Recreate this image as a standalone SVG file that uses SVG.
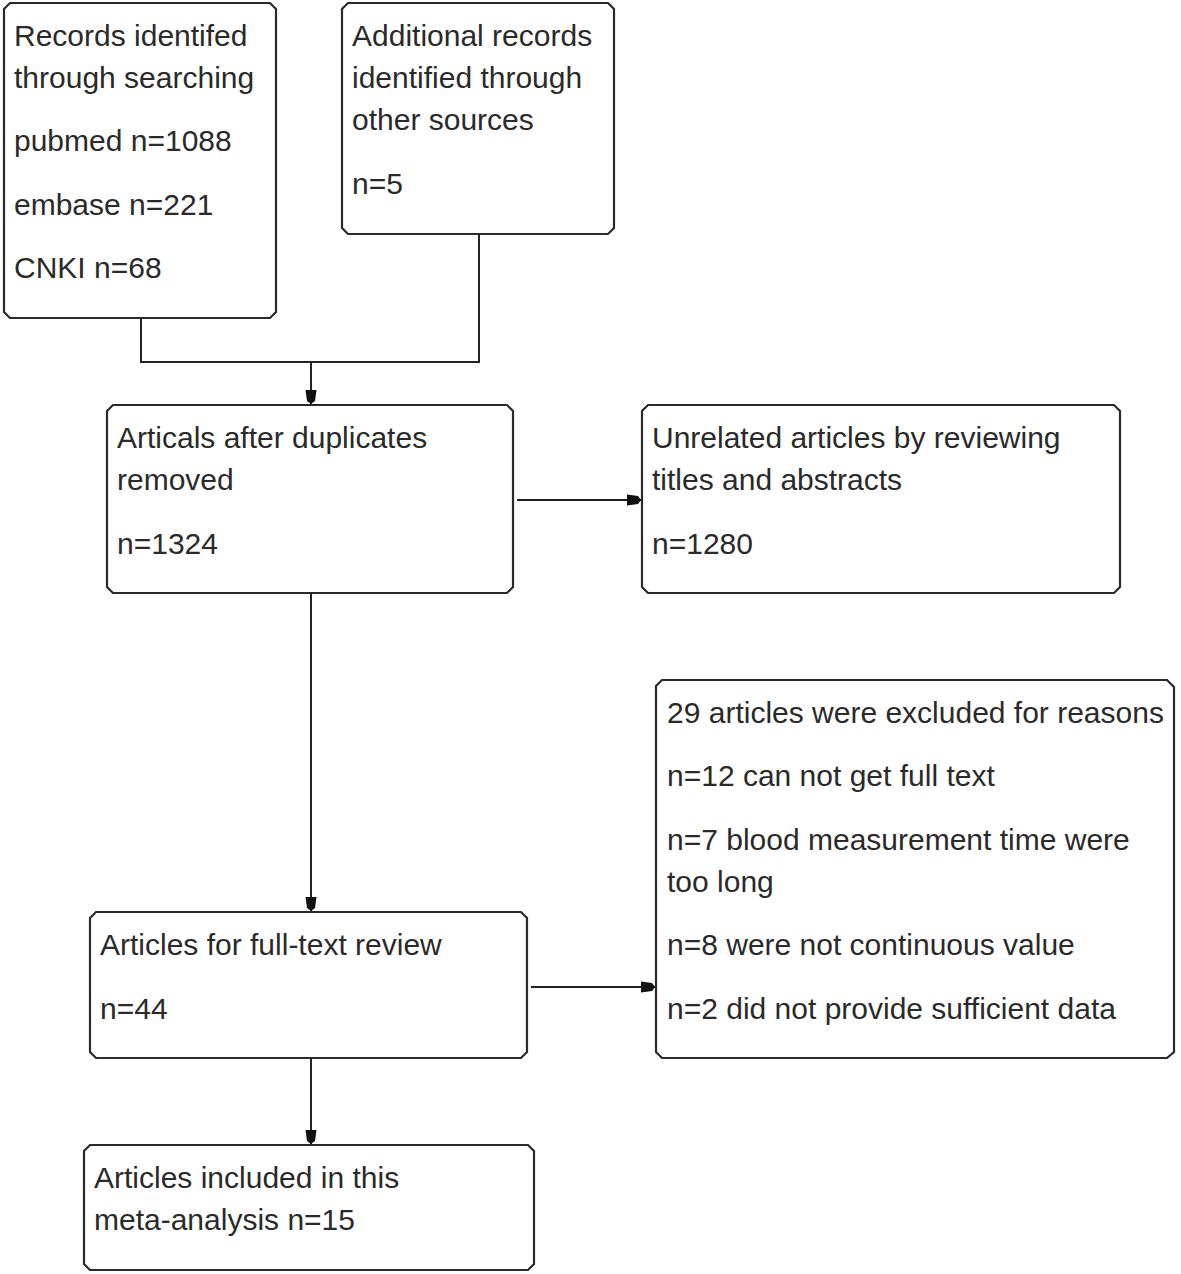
<svg xmlns="http://www.w3.org/2000/svg" width="1181" height="1274" viewBox="0 0 1181 1274">
<defs>
<style>
.box{fill:#fff;stroke:#2a2a2a;stroke-width:2.2}
.t{font-family:"Liberation Sans",Arial,sans-serif;font-size:30px;fill:#2a2a2a}
.c{fill:none;stroke:#222;stroke-width:2}
</style>
<marker id="ah" markerUnits="userSpaceOnUse" markerWidth="16" markerHeight="14" viewBox="-14 -7 16 14" refX="0" refY="0" orient="auto">
<polygon points="-14,-5.5 -3,-4 0,0 -3,4 -14,5.5" fill="#111"/>
</marker>
</defs>
<rect width="1181" height="1274" fill="#fff"/>
<g id="connectors">
<path class="c" d="M141,318 V362 H479 V234"/>
<path class="c" d="M311,362 V404" marker-end="url(#ah)"/>
<path class="c" d="M517,500 H641" marker-end="url(#ah)"/>
<path class="c" d="M311,593 V911" marker-end="url(#ah)"/>
<path class="c" d="M531,987 H655" marker-end="url(#ah)"/>
<path class="c" d="M311,1058 V1144" marker-end="url(#ah)"/>
</g>
<g id="records">
<path class="box" d="M10,3 H270 L276,9 V312 L270,318 H10 L4,312 V9 Z"/>
<text class="t" x="14" y="46">Records identifed</text>
<text class="t" x="14" y="88">through searching</text>
<text class="t" x="14" y="151">pubmed n=1088</text>
<text class="t" x="14" y="215">embase n=221</text>
<text class="t" x="14" y="278">CNKI n=68</text>
</g>
<g id="additional">
<path class="box" d="M348,3 H608 L614,9 V228 L608,234 H348 L342,228 V9 Z"/>
<text class="t" x="352" y="46">Additional records</text>
<text class="t" x="352" y="88">identified through</text>
<text class="t" x="352" y="130">other sources</text>
<text class="t" x="352" y="194">n=5</text>
</g>
<g id="duplicates">
<path class="box" d="M113,405 H507 L513,411 V587 L507,593 H113 L107,587 V411 Z"/>
<text class="t" x="117" y="448">Articals after duplicates</text>
<text class="t" x="117" y="490">removed</text>
<text class="t" x="117" y="554">n=1324</text>
</g>
<g id="unrelated">
<path class="box" d="M648,405 H1114 L1120,411 V587 L1114,593 H648 L642,587 V411 Z"/>
<text class="t" x="652" y="448">Unrelated articles by reviewing</text>
<text class="t" x="652" y="490">titles and abstracts</text>
<text class="t" x="652" y="554">n=1280</text>
</g>
<g id="excluded">
<path class="box" d="M662,680 H1167 L1174,687 V1052 L1167,1058 H662 L656,1052 V686 Z"/>
<text class="t" x="667" y="723">29 articles were excluded for reasons</text>
<text class="t" x="667" y="786">n=12 can not get full text</text>
<text class="t" x="667" y="850">n=7 blood measurement time were</text>
<text class="t" x="667" y="892">too long</text>
<text class="t" x="667" y="955">n=8 were not continuous value</text>
<text class="t" x="667" y="1019">n=2 did not provide sufficient data</text>
</g>
<g id="fulltext">
<path class="box" d="M96,912 H521 L527,918 V1052 L521,1058 H96 L90,1052 V918 Z"/>
<text class="t" x="100" y="955">Articles for full-text review</text>
<text class="t" x="100" y="1019">n=44</text>
</g>
<g id="included">
<path class="box" d="M90,1145 H528 L534,1151 V1264 L528,1270 H90 L84,1264 V1151 Z"/>
<text class="t" x="94" y="1188">Articles included in this</text>
<text class="t" x="94" y="1230">meta-analysis n=15</text>
</g>
</svg>
